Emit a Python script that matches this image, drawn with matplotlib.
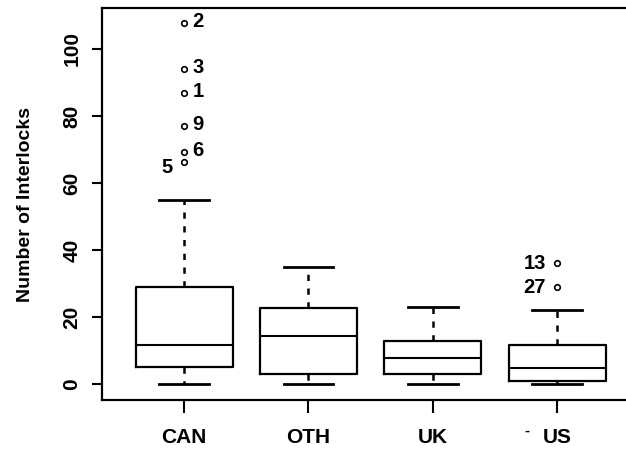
import matplotlib.pyplot as plt

# box summaries
groups = ['CAN', 'OTH', 'UK', 'US']
q1 = [5.0, 3.0, 3.0, 1.0]
med = [11.6, 14.3, 7.8, 4.8]
q3 = [29.0, 22.7, 12.8, 11.5]
whislo = [0.0, 0.0, 0.0, 0.0]
whishi = [55.0, 35.0, 23.0, 22.0]

# labelled outliers
can_out = [107.8, 94.0, 86.9, 77.0, 69.3, 66.3]
can_ids = ['2', '3', '1', '9', '6', '5']
us_out = [36.0, 28.9]
us_ids = ['13', '27']

plt.rcParams['font.family'] = ['Liberation Sans', 'DejaVu Sans']

fig = plt.figure(figsize=(6.26, 4.5), dpi=100)
ax = fig.add_axes([0.163, 0.111, 0.858, 0.871])

fliers = [can_out, [], [], us_out]
stats = []
for i, g in enumerate(groups):
    stats.append(dict(label=g, q1=q1[i], med=med[i], q3=q3[i],
                      whislo=whislo[i], whishi=whishi[i], fliers=fliers[i]))

ax.bxp(stats, positions=range(1, 5), widths=0.78, capwidths=0.4,
       boxprops=dict(color='black', lw=1.6),
       medianprops=dict(color='black', lw=1.5),
       whiskerprops=dict(color='black', lw=1.8, ls=(0, (2.5, 3))),
       capprops=dict(color='black', lw=2),
       flierprops=dict(marker='o', ms=4, mfc='white', mec='black', mew=1.2))

# point labels
for v, t in zip(can_out, can_ids):
    if t == '5':
        ax.annotate(t, (1, v), xytext=(-8, -4), textcoords='offset points',
                    ha='right', va='center', fontsize=14.5, fontweight='bold')
    else:
        ax.annotate(t, (1, v), xytext=(6, 1), textcoords='offset points',
                    ha='left', va='center', fontsize=14.5, fontweight='bold')
for v, t in zip(us_out, us_ids):
    ax.annotate(t, (4, v), xytext=(-8, 0), textcoords='offset points',
                ha='right', va='center', fontsize=14.5, fontweight='bold')

ax.set_xlim(0.34, 4.66)
ax.set_ylim(-4.8, 112.2)
ax.set_yticks([0, 20, 40, 60, 80, 100])
ax.set_xticks(range(1, 5))
ax.set_xticklabels(groups, fontsize=15, fontweight='bold')
for lab in ax.get_yticklabels():
    lab.set_rotation(90)
    lab.set_va('center')
    lab.set_fontsize(15)
    lab.set_fontweight('bold')
ax.tick_params(axis='y', length=7, width=1.5, pad=8)
ax.tick_params(axis='x', length=9, width=1.5, pad=11)
ax.set_ylabel('Number of Interlocks', fontsize=14, fontweight='bold', labelpad=20)
ax.annotate('-', (4, 0), xycoords=('data', 'axes fraction'), xytext=(-22, -22),
            textcoords='offset points', ha='center', va='center',
            fontsize=11, fontweight='bold')

for s in ax.spines.values():
    s.set_linewidth(1.6)

fig.savefig('out.png', dpi=100)
